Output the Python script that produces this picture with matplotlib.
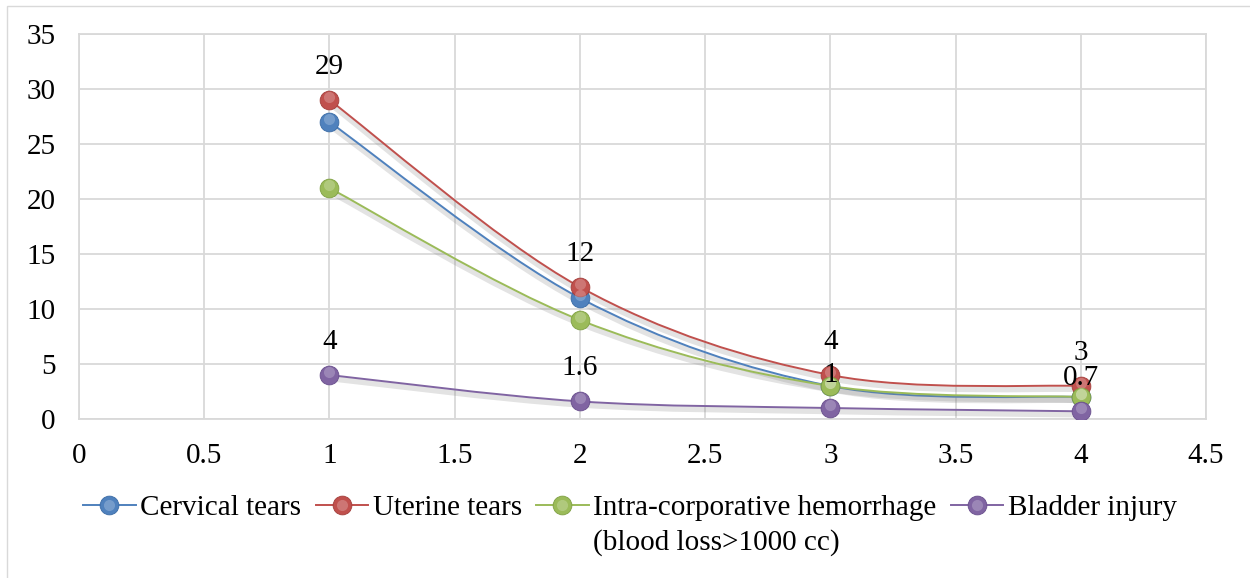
import numpy as np
import matplotlib
matplotlib.use("Agg")
import matplotlib.pyplot as plt
from matplotlib.path import Path
from matplotlib.patches import PathPatch, Rectangle
from matplotlib.lines import Line2D
from matplotlib.legend_handler import HandlerTuple
import matplotlib.patheffects as pe

plt.rcParams['font.family'] = ['Liberation Serif', 'DejaVu Serif']

x_vals = [1, 2, 3, 4]
cervical = [27, 11, 3, 2]
uterine = [29, 12, 4, 3]
hemorrhage = [21, 9, 3, 2]
bladder = [4, 1.6, 1, 0.7]

series_names = ["Cervical tears", "Uterine tears", "Intra-corporative hemorrhage", "Bladder injury"]
series_values = [cervical, uterine, hemorrhage, bladder]
colors = ["#4F81BD", "#C0504D", "#9BBB59", "#8064A2"]
edge_colors = ["#3A6BA5", "#A33E3B", "#7FA043", "#684E8C"]
labelled = {1: ["29", "12", "4", "3"], 3: ["4", "1.6", "1", "0.7"]}

x_ticks = [0, 0.5, 1, 1.5, 2, 2.5, 3, 3.5, 4, 4.5]
y_ticks = [0, 5, 10, 15, 20, 25, 30, 35]

FS = 21

fig = plt.figure(figsize=(12.5, 5.78), dpi=100)
fig.patches.append(Rectangle((7/1250, -0.1), 1.2, 1 - 6/578 + 0.1, transform=fig.transFigure,
                             fill=False, edgecolor="#D9D9D9", linewidth=1.0))
ax = fig.add_axes([79/1250, 1 - 419/578, (1206 - 79)/1250, (419 - 34)/578])
ax.set_xlim(0, 4.5)
ax.set_ylim(0, 35)
ax.set_xticks(x_ticks)
ax.set_xticklabels([f"{t:g}" for t in x_ticks])
ax.set_yticks(y_ticks)
ax.grid(True, color="#D9D9D9", linewidth=1.3)
ax.set_axisbelow(True)
for s in ax.spines.values():
    s.set_color("#D9D9D9")
    s.set_linewidth(1.3)
ax.tick_params(length=0, labelsize=FS, pad=17)


def smooth_path(xs, ys):
    pts = np.column_stack([xs, ys]).astype(float)
    n = len(pts)
    verts = [pts[0]]
    codes = [Path.MOVETO]
    for i in range(n - 1):
        p0 = pts[i - 1] if i > 0 else pts[i]
        p1 = pts[i]
        p2 = pts[i + 1]
        p3 = pts[i + 2] if i + 2 < n else pts[i + 1]
        c1 = p1 + (p2 - p0) / 6.0
        c2 = p2 - (p3 - p1) / 6.0
        verts += [c1, c2, p2]
        codes += [Path.CURVE4] * 3
    return Path(verts, codes)


MS = 13.5
handles = []
for name, vals, col, ec in zip(series_names, series_values, colors, edge_colors):
    patch = PathPatch(smooth_path(x_vals, vals), facecolor="none", edgecolor=col,
                      linewidth=1.4, transform=ax.transData, zorder=3,
                      path_effects=[pe.SimpleLineShadow(offset=(0, -2.5), shadow_color="gray", alpha=0.22, linewidth=4),
                                    pe.Normal()])
    ax.add_patch(patch)
    ax.plot(x_vals, vals, linestyle="none", marker="o", markersize=MS,
            markerfacecolor=col, markeredgecolor=ec, markeredgewidth=0.6, zorder=4)
    ax.plot(x_vals, np.array(vals) + 0.3, linestyle="none", marker="o", markersize=8,
            markerfacecolor="white", markeredgecolor="none", alpha=0.22, zorder=5)
    h1 = Line2D([], [], color=col, linewidth=1.4, marker="o", markersize=MS,
                markerfacecolor=col, markeredgecolor=ec, markeredgewidth=0.6)
    h2 = Line2D([], [], linestyle="none", marker="o", markersize=8,
                markerfacecolor="white", markeredgecolor="none", alpha=0.22)
    handles.append((h1, h2))

for idx, labels in labelled.items():
    vals = series_values[idx]
    for xv, yv, lab in zip(x_vals, vals, labels):
        ax.annotate(lab, (xv, yv), xytext=(0, 19), textcoords="offset points",
                    ha="center", va="baseline", fontsize=FS, zorder=6)

leg = fig.legend(handles, series_names, loc="center", bbox_to_anchor=(0.504, 1 - 508/578),
                 ncol=4, frameon=False, fontsize=FS, handlelength=1.8, handletextpad=0.15,
                 columnspacing=0.5, borderpad=0, handler_map={tuple: HandlerTuple(ndivide=1)})

fig.canvas.draw()
t3 = leg.get_texts()[2]
bb = t3.get_window_extent()
x0, y0 = fig.transFigure.inverted().transform((bb.x0, bb.y0))
fig.text(x0, y0 - 35/578, "(blood loss>1000 cc)", fontsize=FS, ha="left", va="bottom")

fig.savefig("out.png", dpi=100)
